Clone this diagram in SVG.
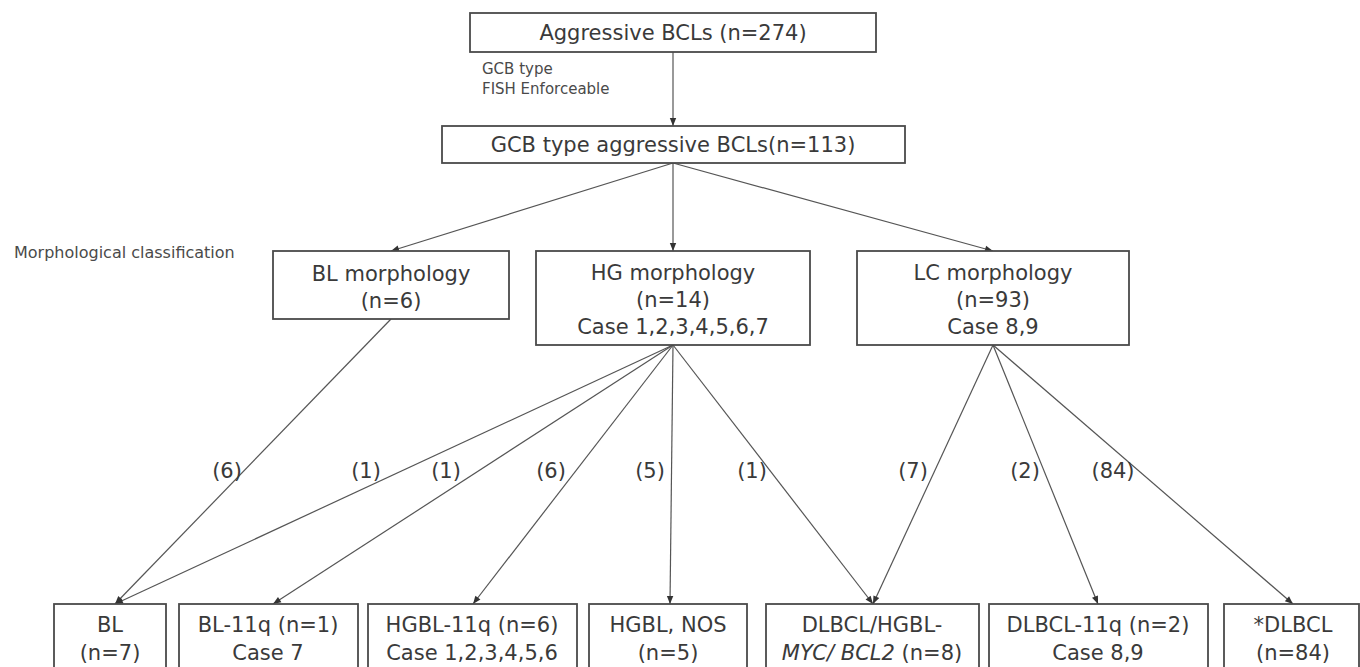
<svg xmlns="http://www.w3.org/2000/svg" width="1360" height="667" viewBox="0 0 1360 667">
<defs>
<marker id="ah" markerWidth="10" markerHeight="10" refX="9" refY="5" orient="auto" markerUnits="userSpaceOnUse">
<path d="M1,1.8 L9,5 L1,8.2 z" fill="#333"/>
</marker>
<style>
.box{fill:#fff;stroke:#4a4a4a;stroke-width:1.8}
.t{font-family:"DejaVu Sans","Liberation Sans",sans-serif;fill:#3a3a3a;text-anchor:middle;font-size:21px}
.s{font-family:"DejaVu Sans","Liberation Sans",sans-serif;fill:#4a4a4a;font-size:15px}
.c line{stroke:#555;stroke-width:1.2;marker-end:url(#ah)}
.lbl{font-family:"DejaVu Sans","Liberation Sans",sans-serif;fill:#3a3a3a;font-size:21px;text-anchor:middle}
</style>
</defs>
<rect width="1360" height="667" fill="#fff"/>
<g class="c" id="connectors">
<line x1="673" y1="52" x2="673" y2="126"/>
<line x1="673" y1="163" x2="391" y2="251"/>
<line x1="673" y1="163" x2="673" y2="251"/>
<line x1="673" y1="163" x2="993" y2="251"/>
<line x1="391" y1="319" x2="115" y2="604"/>
<line x1="673" y1="345" x2="115" y2="604"/>
<line x1="673" y1="345" x2="273" y2="604"/>
<line x1="673" y1="345" x2="473" y2="604"/>
<line x1="673" y1="345" x2="670" y2="604"/>
<line x1="673" y1="345" x2="873" y2="604"/>
<line x1="993" y1="345" x2="873" y2="604"/>
<line x1="993" y1="345" x2="1098" y2="604"/>
<line x1="993" y1="345" x2="1293" y2="604"/>
</g>
<g id="edge-labels">
<text class="lbl" x="227" y="478">(6)</text>
<text class="lbl" x="366" y="478">(1)</text>
<text class="lbl" x="446" y="478">(1)</text>
<text class="lbl" x="551" y="478">(6)</text>
<text class="lbl" x="650" y="478">(5)</text>
<text class="lbl" x="752" y="478">(1)</text>
<text class="lbl" x="913" y="478">(7)</text>
<text class="lbl" x="1025" y="478">(2)</text>
<text class="lbl" x="1113" y="478">(84)</text>
</g>
<g id="n-top"><rect class="box" x="470" y="13" width="406" height="39"/><text class="t" x="673" y="40">Aggressive BCLs (n=274)</text></g>
<g id="n-filter"><text class="s" x="482" y="74">GCB type</text><text class="s" x="482" y="94">FISH Enforceable</text></g>
<g id="n-gcb"><rect class="box" x="442" y="126" width="463" height="37"/><text class="t" x="673" y="152">GCB type aggressive BCLs(n=113)</text></g>
<g id="n-morph"><text class="s" x="14" y="258" style="font-size:16px">Morphological classification</text></g>
<g id="n-bl"><rect class="box" x="273" y="251" width="236" height="68"/><text class="t" x="391" y="281">BL morphology</text><text class="t" x="391" y="308">(n=6)</text></g>
<g id="n-hg"><rect class="box" x="536" y="251" width="274" height="94"/><text class="t" x="673" y="280">HG morphology</text><text class="t" x="673" y="307">(n=14)</text><text class="t" x="673" y="334">Case 1,2,3,4,5,6,7</text></g>
<g id="n-lc"><rect class="box" x="857" y="251" width="272" height="94"/><text class="t" x="993" y="280">LC morphology</text><text class="t" x="993" y="307">(n=93)</text><text class="t" x="993" y="334">Case 8,9</text></g>
<g id="n-b1"><rect class="box" x="54" y="604" width="112" height="80"/><text class="t" x="110" y="632">BL</text><text class="t" x="110" y="660">(n=7)</text></g>
<g id="n-b2"><rect class="box" x="179" y="604" width="179" height="80"/><text class="t" x="268" y="632">BL-11q (n=1)</text><text class="t" x="268" y="660">Case 7</text></g>
<g id="n-b3"><rect class="box" x="368" y="604" width="209" height="80"/><text class="t" x="472" y="632">HGBL-11q (n=6)</text><text class="t" x="472" y="660">Case 1,2,3,4,5,6</text></g>
<g id="n-b4"><rect class="box" x="589" y="604" width="158" height="80"/><text class="t" x="668" y="632">HGBL, NOS</text><text class="t" x="668" y="660">(n=5)</text></g>
<g id="n-b5"><rect class="box" x="766" y="604" width="213" height="80"/><text class="t" x="872" y="632">DLBCL/HGBL-</text><text class="t" x="872" y="660"><tspan font-style="italic">MYC/ BCL2</tspan> (n=8)</text></g>
<g id="n-b6"><rect class="box" x="989" y="604" width="219" height="80"/><text class="t" x="1098" y="632">DLBCL-11q (n=2)</text><text class="t" x="1098" y="660">Case 8,9</text></g>
<g id="n-b7"><rect class="box" x="1224" y="604" width="135" height="80"/><text class="t" x="1293" y="632">*DLBCL</text><text class="t" x="1293" y="660">(n=84)</text></g>
</svg>
